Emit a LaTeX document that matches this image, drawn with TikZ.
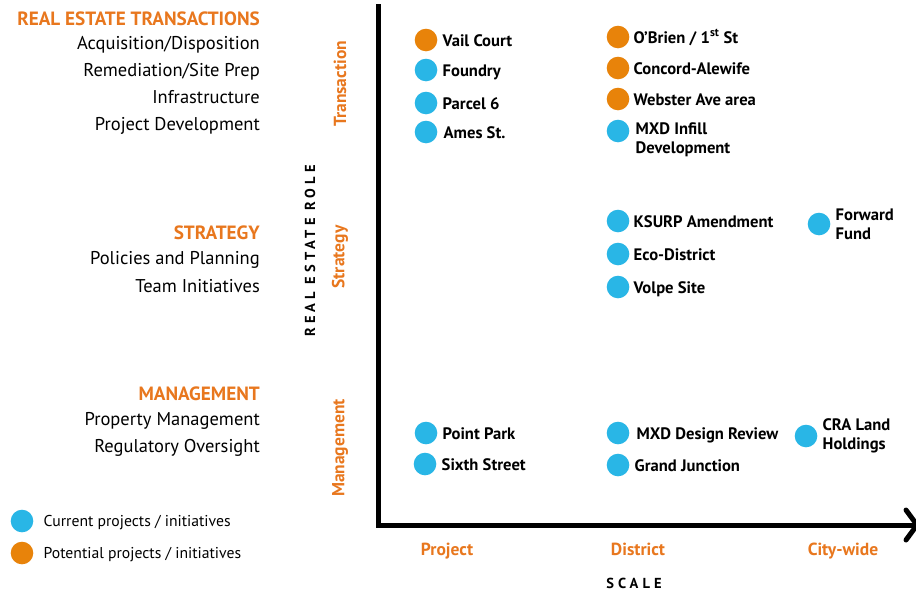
\documentclass[tikz,border=0pt]{standalone}
\usepackage{fontspec}
\setmainfont{PT Sans}
\usepackage{tikz}
\usetikzlibrary{positioning}

\definecolor{roleorange}{RGB}{232,119,30}
\definecolor{curblue}{RGB}{41,182,230}
\definecolor{potorange}{RGB}{232,131,10}

\tikzset{
  curdot/.style={circle, fill=curblue, minimum size=22.6pt, inner sep=0pt},
  potdot/.style={circle, fill=potorange, minimum size=22.6pt, inner sep=0pt},
  item/.style={font=\fontsize{16.6}{19}\selectfont\bfseries, inner sep=0pt, anchor=west,
    text height=12pt, text depth=3.5pt, yshift=-2pt},
  itemtwo/.style={font=\fontsize{16.6}{19}\selectfont\bfseries, inner sep=0pt, anchor=west, align=left},
  rolehead/.style={font=\fontsize{19.2}{22}\selectfont\bfseries, text=roleorange, inner sep=0pt, anchor=east, yshift=-1.5pt},
  roleline/.style={font=\fontsize{18.5}{22}\selectfont, inner sep=0pt, anchor=east,
    text height=13.5pt, text depth=4pt, yshift=-2pt},
  sidelabel/.style={font=\fontsize{17.5}{20}\selectfont\bfseries, text=roleorange, inner sep=0pt, rotate=90},
  scalelabel/.style={font=\fontsize{17.5}{20}\selectfont\bfseries, text=roleorange, inner sep=0pt,
    text height=12.5pt, text depth=4pt},
  axistitle/.style={font=\fontsize{14.5}{17}\selectfont\bfseries\addfontfeature{LetterSpace=28}, inner sep=0pt},
  legendtext/.style={font=\fontsize{15.7}{18}\selectfont, inner sep=0pt, anchor=west, yshift=-1.5pt},
  axisline/.style={line width=5pt}
}

\begin{document}
\begin{tikzpicture}[x=1pt, y=-1pt]
        \useasboundingbox (0,0) rectangle (916,592);

        % role descriptions
        \node[rolehead] (transhead) at (260,17) {REAL ESTATE TRANSACTIONS};
        \node[roleline] (acq) at (260,43) {Acquisition/Disposition};
        \node[roleline] (remed) at (260,70) {Remediation/Site Prep};
        \node[roleline] (infra) at (260,97) {Infrastructure};
        \node[roleline] (projdev) at (260,124) {Project Development};

        \node[rolehead] (stratehead) at (260,231) {STRATEGY};
        \node[roleline] (policies) at (260,258) {Policies and Planning};
        \node[roleline] (team) at (260,286) {Team Initiatives};

        \node[rolehead] (mgmthead) at (260,392) {MANAGEMENT};
        \node[roleline] (propmgmt) at (260,419) {Property Management};
        \node[roleline] (regover) at (260,446) {Regulatory Oversight};

        % legend
        \node[curdot] (legcur) at (22,521) {};
        \node[legendtext, right=10pt of legcur] (legcurtext) {Current projects / initiatives};
        \node[potdot] (legpot) at (22,553) {};
        \node[legendtext, right=10pt of legpot] (legpottext) {Potential projects / initiatives};

        % axes
        \coordinate (top) at (378,4);
        \coordinate (origin) at (378,525);
        \coordinate (tip) at (917,525);
        \draw[axisline] (top) -- (origin) -- (tip);
        \draw[axisline, line cap=round, line join=round] (906,510) -- (tip) -- (906,540);

        \node[axistitle, rotate=90] (roletitle) at (310,251) {REAL ESTATE ROLE};
        \node[sidelabel] (transaction) at (340,84) {Transaction};
        \node[sidelabel] (strategy) at (340,257) {Strategy};
        \node[sidelabel] (management) at (340,448) {Management};

        \node[scalelabel] (project) at (447,551) {Project};
        \node[scalelabel] (district) at (638,551) {District};
        \node[scalelabel] (citywide) at (843,551) {City-wide};
        \node[axistitle] (scaletitle) at (634,583) {SCALE};

        % project scale
        \node[potdot] (vail) at (426,40) {};
        \node[item, right=5pt of vail] {Vail Court};
        \node[curdot] (foundry) at (426,70) {};
        \node[item, right=5pt of foundry] {Foundry};
        \node[curdot] (parcel) at (426,103) {};
        \node[item, right=5pt of parcel] {Parcel 6};
        \node[curdot] (ames) at (426,132) {};
        \node[item, right=6pt of ames] {Ames St.};
        \node[curdot] (pointpark) at (426,433) {};
        \node[item, right=5pt of pointpark] {Point Park};
        \node[curdot] (sixth) at (425,464) {};
        \node[item, right=5pt of sixth] {Sixth Street};

        % district scale
        \node[potdot] (obrien) at (618,37) {};
        \node[item, right=4pt of obrien] {O’Brien / 1\textsuperscript{st} St};
        \node[potdot] (concord) at (618,68) {};
        \node[item, right=4pt of concord] {Concord-Alewife};
        \node[potdot] (webster) at (618,99) {};
        \node[item, right=4pt of webster] {Webster Ave area};
        \node[curdot] (mxdinfill) at (618,131) {};
        \node[itemtwo, right=6pt of mxdinfill, yshift=-9pt] {MXD Infill\\Development};
        \node[curdot] (ksurp) at (618,221) {};
        \node[item, right=4pt of ksurp] {KSURP Amendment};
        \node[curdot] (eco) at (618,254) {};
        \node[item, right=4pt of eco] {Eco-District};
        \node[curdot] (volpe) at (618,287) {};
        \node[item, right=4pt of volpe] {Volpe Site};
        \node[curdot] (mxdreview) at (618,433) {};
        \node[item, right=7pt of mxdreview] {MXD Design Review};
        \node[curdot] (grand) at (618,465) {};
        \node[item, right=5pt of grand] {Grand Junction};

        % city-wide scale
        \node[curdot] (forward) at (819,224) {};
        \node[itemtwo, right=5pt of forward] {Forward\\Fund};
        \node[curdot] (cra) at (806,436) {};
        \node[itemtwo, right=5pt of cra] {CRA Land\\Holdings};

\end{tikzpicture}
\end{document}
